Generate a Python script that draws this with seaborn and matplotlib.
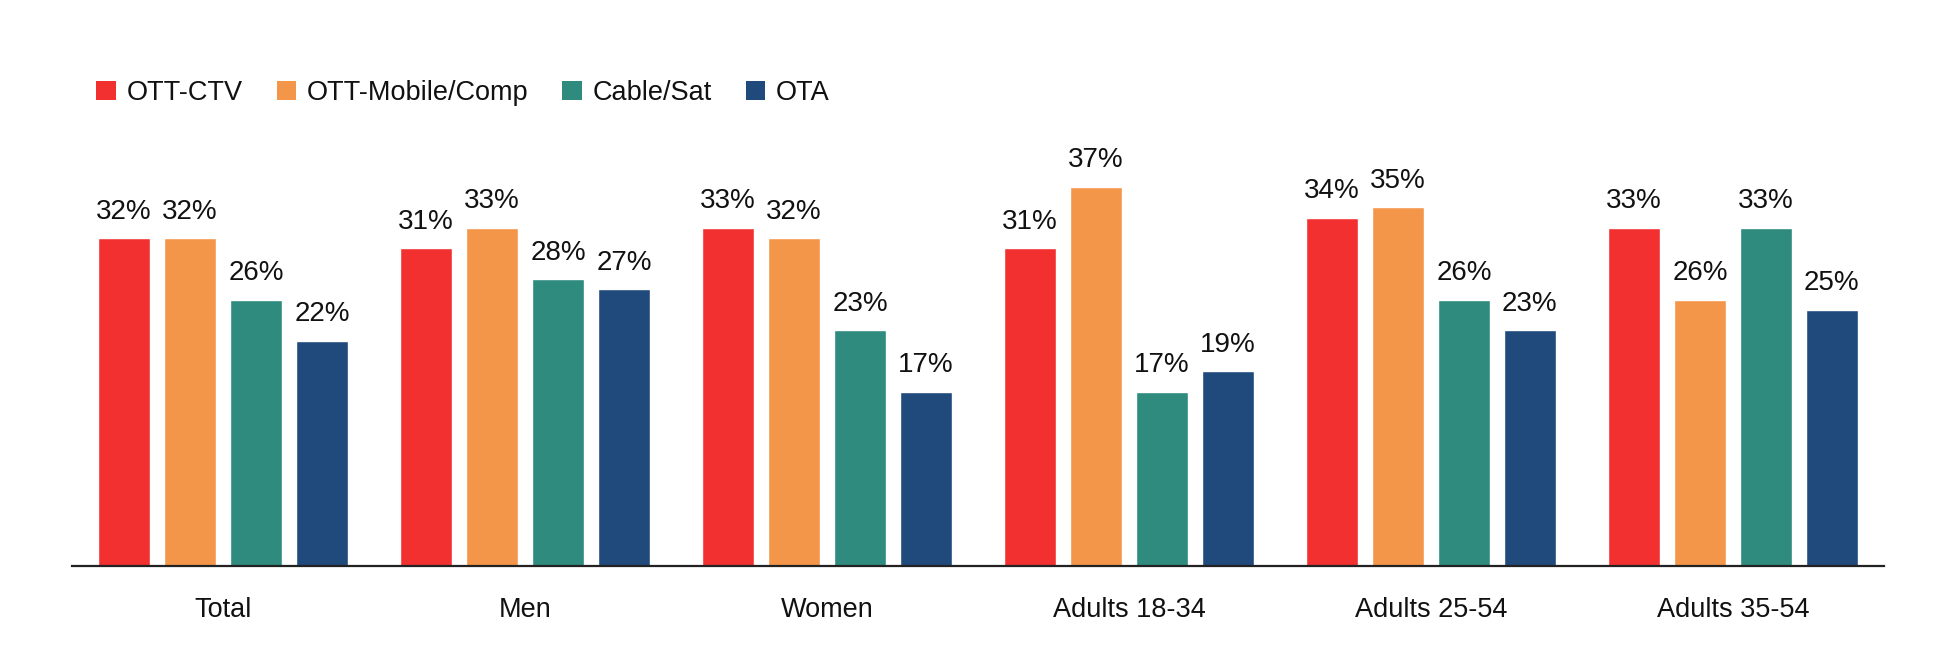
import matplotlib
matplotlib.use("Agg")
import matplotlib.pyplot as plt
import seaborn as sns
import pandas as pd
from matplotlib.patches import Patch

categories = ["Total", "Men", "Women", "Adults 18-34", "Adults 25-54", "Adults 35-54"]
series = ["OTT-CTV", "OTT-Mobile/Comp", "Cable/Sat", "OTA"]
ott_ctv = [32, 31, 33, 31, 34, 33]
ott_mobile = [32, 33, 32, 37, 35, 26]
cable_sat = [26, 28, 23, 17, 26, 33]
ota = [22, 27, 17, 19, 23, 25]
colors = ["#F23030", "#F4964A", "#2E8B7D", "#214A7C"]

rows = []
for name, vals in zip(series, [ott_ctv, ott_mobile, cable_sat, ota]):
    for c, v in zip(categories, vals):
        rows.append({"cat": c, "series": name, "value": v})
df = pd.DataFrame(rows)

sns.set_theme(style="white")
plt.rcParams["font.family"] = ["Liberation Sans", "DejaVu Sans"]

fig = plt.figure(figsize=(19.41, 6.6), dpi=100)
ax = fig.add_axes([0.0371, 0.1424, 0.9335, 0.6523])

sns.barplot(data=df, x="cat", y="value", hue="series", order=categories,
            hue_order=series, palette=colors, width=0.874, gap=0.21,
            saturation=1, legend=False, ax=ax, errorbar=None)

for cont in ax.containers:
    for bar in cont:
        h = bar.get_height()
        ax.annotate(f"{h:.0f}%", (bar.get_x() + bar.get_width() / 2, h),
                    xytext=(0, 14), textcoords="offset points",
                    ha="center", va="baseline", fontsize=20, color="#111111")

ax.set_ylim(0, 42)
ax.set_xlim(-0.5, len(categories) - 0.5)
ax.set_xlabel("")
ax.set_ylabel("")
ax.set_yticks([])
ax.tick_params(axis="x", length=0, labelsize=19.5, pad=22, colors="#111111")
for s in ["top", "right", "left"]:
    ax.spines[s].set_visible(False)
ax.spines["bottom"].set_color("#222222")
ax.spines["bottom"].set_linewidth(1.6)

handles = [Patch(facecolor=c, edgecolor="none") for c in colors]
fig.legend(handles, series, loc="center left", bbox_to_anchor=(0.037, 0.859),
           ncol=4, frameon=False, fontsize=19.5, handlelength=0.72,
           handleheight=0.72, handletextpad=0.4, columnspacing=1.25,
           labelcolor="#111111")

fig.savefig("out.png", dpi=100)
